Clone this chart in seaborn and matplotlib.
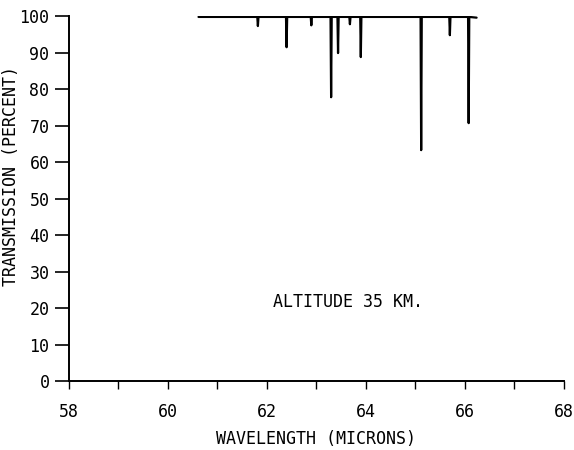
import numpy as np
import pandas as pd
import matplotlib
matplotlib.use("Agg")
import matplotlib.pyplot as plt
import seaborn as sns

# Spectrum coverage and absorption lines (wavelength in microns, min transmission %)
span_start = 60.62
span_end = 66.24
line_wl = [61.82, 62.40, 62.90, 63.30, 63.44, 63.68, 63.90, 65.12, 65.70, 66.08]
line_min = [97.3, 91.5, 97.5, 77.8, 89.9, 97.8, 88.8, 63.3, 94.8, 70.7]
x_ticks = [58, 59, 60, 61, 62, 63, 64, 65, 66, 67, 68]
x_labels = ["58", "", "60", "", "62", "", "64", "", "66", "", "68"]
y_ticks = [0, 10, 20, 30, 40, 50, 60, 70, 80, 90, 100]

# build trace: baseline at 100 with narrow dips
xs, ys = [span_start], [99.8]
w = 0.012
for wl, m in zip(line_wl, line_min):
    xs += [wl - w, wl, wl, wl + w]
    ys += [99.8, m, m, 99.8]
xs.append(span_end)
ys.append(99.6)
df = pd.DataFrame({"wl": xs, "trans": ys})

sns.set_theme(style="ticks")
plt.rcParams["font.family"] = ["DejaVu Sans Mono"]
plt.rcParams["text.color"] = "black"
plt.rcParams["axes.labelcolor"] = "black"

fig = plt.figure(figsize=(5.74, 4.5), dpi=100)
ax = fig.add_axes([0.120, 0.153, 0.862, 0.811])
sns.lineplot(data=df, x="wl", y="trans", sort=False, color="black", linewidth=1.6, ax=ax)

ax.set_xlim(58, 68)
ax.set_ylim(0, 100)
ax.set_xticks(x_ticks)
ax.set_xticklabels(x_labels)
ax.set_yticks(y_ticks)
ax.tick_params(axis="y", direction="out", length=10, width=1.2, colors="black", labelsize=12, pad=4)
ax.tick_params(axis="x", direction="out", length=6, width=1.0, colors="black", labelsize=12, pad=10)
for s in ["top", "right"]:
    ax.spines[s].set_visible(False)
for s in ["left", "bottom"]:
    ax.spines[s].set_linewidth(1.4)
    ax.spines[s].set_color("black")

ax.set_xlabel("WAVELENGTH (MICRONS)", fontsize=12, color="black")
ax.set_ylabel("TRANSMISSION (PERCENT)", fontsize=12, color="black")
ax.xaxis.set_label_coords(0.5, -0.135)
ax.yaxis.set_label_coords(-0.098, 0.562)
ax.text(63.64, 21.8, "ALTITUDE 35 KM.", fontsize=12, ha="center", va="center", color="black")

fig.savefig("out.png", dpi=100)
